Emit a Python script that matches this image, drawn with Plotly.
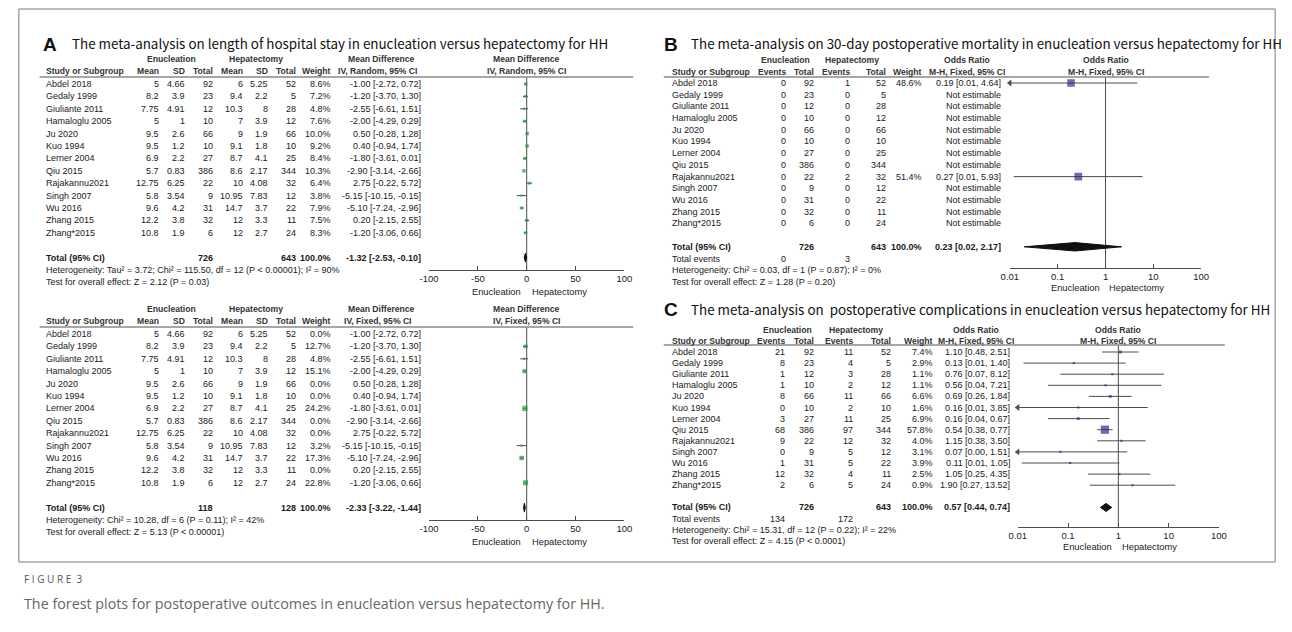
import math
import plotly.graph_objects as go

W, H = 1292, 632

# ---------------------------------------------------------------- data
studies = ["Abdel 2018", "Gedaly 1999", "Giuliante 2011", "Hamaloglu 2005", "Ju 2020", "Kuo 1994",
           "Lerner 2004", "Qiu 2015", "Rajakannu2021", "Singh 2007", "Wu 2016", "Zhang 2015", "Zhang*2015"]
enu_total = [92, 23, 12, 10, 66, 10, 27, 386, 22, 9, 31, 32, 6]
hep_total = [52, 5, 28, 12, 66, 10, 25, 344, 32, 12, 22, 11, 24]

# Panel A: length of hospital stay (mean difference)
los_enu_mean = [5, 8.2, 7.75, 5, 9.5, 9.5, 6.9, 5.7, 12.75, 5.8, 9.6, 12.2, 10.8]
los_enu_sd = [4.66, 3.9, 4.91, 1, 2.6, 1.2, 2.2, 0.83, 6.25, 3.54, 4.2, 3.8, 1.9]
los_hep_mean = [6, 9.4, 10.3, 7, 9, 9.1, 8.7, 8.6, 10, 10.95, 14.7, 12, 12]
los_hep_sd = [5.25, 2.2, 8, 3.9, 1.9, 1.8, 4.1, 2.17, 4.08, 7.83, 3.7, 3.3, 2.7]
los_md = [-1.00, -1.20, -2.55, -2.00, 0.50, 0.40, -1.80, -2.90, 2.75, -5.15, -5.10, 0.20, -1.20]
los_lo = [-2.72, -3.70, -6.61, -4.29, -0.28, -0.94, -3.61, -3.14, -0.22, -10.15, -7.24, -2.15, -3.06]
los_hi = [0.72, 1.30, 1.51, 0.29, 1.28, 1.74, 0.01, -2.66, 5.72, -0.15, -2.96, 2.55, 0.66]
los_weight_random = [8.6, 7.2, 4.8, 7.6, 10.0, 9.2, 8.4, 10.3, 6.4, 3.8, 7.9, 7.5, 8.3]
los_weight_fixed = [0.0, 12.7, 4.8, 15.1, 0.0, 0.0, 24.2, 0.0, 0.0, 3.2, 17.3, 0.0, 22.8]
total_weight = 100.0
los_random_total = [-1.32, -2.53, -0.10]
los_fixed_total = [-2.33, -3.22, -1.44]
los_random_het = "Heterogeneity: Tau² = 3.72; Chi² = 115.50, df = 12 (P < 0.00001); I² = 90%"
los_random_test = "Test for overall effect: Z = 2.12 (P = 0.03)"
los_fixed_het = "Heterogeneity: Chi² = 10.28, df = 6 (P = 0.11); I² = 42%"
los_fixed_test = "Test for overall effect: Z = 5.13 (P < 0.00001)"
md_ticks = [-100, -50, 0, 50, 100]

# Panel B: 30-day mortality (odds ratio)
mort_enu_events = [0, 0, 0, 0, 0, 0, 0, 0, 0, 0, 0, 0, 0]
mort_hep_events = [1, 0, 0, 0, 0, 0, 0, 0, 2, 0, 0, 0, 0]
mort_weight = [48.6, None, None, None, None, None, None, None, 51.4, None, None, None, None]
mort_or = [0.19, None, None, None, None, None, None, None, 0.27, None, None, None, None]
mort_lo = [0.008, None, None, None, None, None, None, None, 0.012, None, None, None, None]
mort_hi = [4.64, None, None, None, None, None, None, None, 5.93, None, None, None, None]
mort_total = [0.23, 0.02, 2.17]
mort_het = "Heterogeneity: Chi² = 0.03, df = 1 (P = 0.87); I² = 0%"
mort_test = "Test for overall effect: Z = 1.28 (P = 0.20)"

# Panel C: postoperative complications (odds ratio)
comp_enu_events = [21, 8, 1, 1, 8, 0, 3, 68, 9, 0, 1, 12, 2]
comp_hep_events = [11, 4, 3, 2, 11, 2, 11, 97, 12, 5, 5, 4, 5]
comp_weight = [7.4, 2.9, 1.1, 1.1, 6.6, 1.6, 6.9, 57.8, 4.0, 3.1, 3.9, 2.5, 0.9]
comp_or = [1.10, 0.13, 0.76, 0.56, 0.69, 0.16, 0.16, 0.54, 1.15, 0.07, 0.11, 1.05, 1.90]
comp_lo = [0.48, 0.013, 0.07, 0.04, 0.26, 0.007, 0.04, 0.38, 0.38, 0.003, 0.012, 0.25, 0.27]
comp_hi = [2.51, 1.40, 8.12, 7.21, 1.84, 3.85, 0.67, 0.77, 3.50, 1.51, 1.05, 4.35, 13.52]
comp_total = [0.57, 0.44, 0.74]
comp_het = "Heterogeneity: Chi² = 15.31, df = 12 (P = 0.22); I² = 22%"
comp_test = "Test for overall effect: Z = 4.15 (P < 0.0001)"
or_ticks = [0.01, 0.1, 1, 10, 100]
or_tick_labels = ["0.01", "0.1", "1", "10", "100"]

# ---------------------------------------------------------------- style
FT = "Liberation Sans, Arial, sans-serif"
FS = 9
FSB = 8.6
TXT = "#1a1a1a"
HDR = "#333333"
GREEN = "#1e9e48"
NAVY = "#2e2e8c"
LINE = "#4d4d4d"
TITLE_F = "Noto Sans CJK SC, Noto Sans, Arial, sans-serif"
TITLE_S = 13.4

fig = go.Figure()
annotations = []
shapes = []


def X(x):
    return x / W


def Y(y):
    return 1 - y / H


def add_text(x, y, s, anchor="left", bold=False, size=None, color=TXT, family=FT):
    if size is None:
        size = FSB if bold else FS
    annotations.append(dict(
        x=X(x), y=Y(y), xref="paper", yref="paper",
        text=f"<b>{s}</b>" if bold else s, showarrow=False,
        xanchor=anchor, yanchor="middle", borderpad=0,
        font=dict(family=family, size=size, color=color)))


def add_hline(x0, x1, y, color="#8a8a8a", width=1.5):
    shapes.append(dict(type="line", xref="paper", yref="paper",
                       x0=X(x0), x1=X(x1), y0=Y(y), y1=Y(y),
                       line=dict(color=color, width=width)))


def fmt(v):
    return f"{v:g}"


def setup_forest(k, px0, px1, log, row0, dy, y_top, y_bot, ticks, ticklabels, ref):
    rng = [math.log10(ticks[0]), math.log10(ticks[-1])] if log else [ticks[0], ticks[-1]]
    r_top = (y_top - row0) / dy
    r_bot = (y_bot - row0) / dy
    fig.update_layout(**{
        f"xaxis{k}": dict(domain=[X(px0), X(px1)], range=rng, type="log" if log else "linear",
                          anchor=f"y{k}", showgrid=False, zeroline=False, showline=True,
                          linecolor=LINE, linewidth=1, ticks="inside", ticklen=4, tickcolor=LINE,
                          tickvals=ticks, ticktext=ticklabels, fixedrange=True,
                          tickfont=dict(family=FT, size=9.5, color=TXT)),
        f"yaxis{k}": dict(domain=[Y(y_bot), Y(y_top)], range=[r_bot, r_top], visible=False,
                          anchor=f"x{k}", fixedrange=True),
    })
    fig.add_trace(go.Scatter(x=[ref, ref], y=[r_top, r_bot], mode="lines",
                             line=dict(color=LINE, width=1), xaxis=f"x{k}", yaxis=f"y{k}",
                             hoverinfo="skip", showlegend=False))


def add_forest_marks(k, est, lo, hi, weights, color, axis_min, axis_max, total):
    xs, ys, mx, my, ms, ax, ay = [], [], [], [], [], [], []
    for i, (e, l, h, w) in enumerate(zip(est, lo, hi, weights)):
        if e is None or not w:
            continue
        xs += [max(l, axis_min), min(h, axis_max), None]
        ys += [i, i, None]
        mx.append(e)
        my.append(i)
        ms.append(max(2.2, 1.08 * math.sqrt(w)))
        if l < axis_min:
            ax.append(axis_min)
            ay.append(i)
    fig.add_trace(go.Scatter(x=xs, y=ys, mode="lines", line=dict(color=LINE, width=1),
                             xaxis=f"x{k}", yaxis=f"y{k}", hoverinfo="skip", showlegend=False))
    if ax:
        fig.add_trace(go.Scatter(x=ax, y=ay, mode="markers", cliponaxis=False,
                                 marker=dict(symbol="triangle-left", size=6, color=LINE),
                                 xaxis=f"x{k}", yaxis=f"y{k}", hoverinfo="skip", showlegend=False))
    fig.add_trace(go.Scatter(x=mx, y=my, mode="markers", cliponaxis=False,
                             marker=dict(symbol="square", size=ms, color=color, line=dict(width=0)),
                             xaxis=f"x{k}", yaxis=f"y{k}", hoverinfo="skip", showlegend=False))
    e, l, h = total
    r = 14
    fig.add_trace(go.Scatter(x=[l, e, h, e, l], y=[r, r - 0.36, r, r + 0.36, r], mode="lines",
                             fill="toself", fillcolor="#111111", line=dict(color="#111111", width=1),
                             xaxis=f"x{k}", yaxis=f"y{k}", hoverinfo="skip", showlegend=False))


# ---------------------------------------------------------------- frame & caption
shapes.append(dict(type="rect", xref="paper", yref="paper", x0=X(9), x1=X(1283), y0=Y(562), y1=Y(9),
                   line=dict(color="#7a7a7a", width=1)))
add_text(13, 579, "F I G U R E  3", size=10, color="#555555", family="Open Sans, Arial")
add_text(13, 603, "The forest plots for postoperative outcomes in enucleation versus hepatectomy for HH.",
         size=14.3, color="#666666", family="Open Sans, Arial")

# ---------------------------------------------------------------- panel titles
add_text(32, 44, "A", bold=True, size=19, color="#111111", family="Liberation Sans, Arial")
add_text(62, 43, "The meta-analysis on length of hospital stay in enucleation versus hepatectomy for HH",
         size=TITLE_S, color="#111111", family=TITLE_F)
add_text(662, 44, "B", bold=True, size=19, color="#111111", family="Liberation Sans, Arial")
add_text(690, 43, "The meta-analysis on 30-day postoperative mortality in enucleation versus hepatectomy for HH",
         size=TITLE_S, color="#111111", family=TITLE_F)
add_text(662, 310, "C", bold=True, size=19, color="#111111", family="Liberation Sans, Arial")
add_text(690, 309, "The meta-analysis on  postoperative complications in enucleation versus hepatectomy for HH",
         size=TITLE_S, color="#111111", family=TITLE_F)


# ---------------------------------------------------------------- panel A (two tables)
def md_panel(k, yoff, weights, total, het, test, model):
    row0, dy = 84 + yoff, 12.4
    ry = lambda r: row0 + r * dy
    cols = [152, 178, 207, 237, 263, 291, 327]
    ci_r, zero = 418, 524
    h1, h2, ln, axis_y = 59 + yoff, 71 + yoff, 77 + yoff, 270 + yoff
    add_text(164, h1, "Enucleation", "center", True, color=HDR)
    add_text(249, h1, "Hepatectomy", "center", True, color=HDR)
    add_text(377, h1, "Mean Difference", "center", True, color=HDR)
    add_text(zero, h1, "Mean Difference", "center", True, color=HDR)
    add_text(36, h2, "Study or Subgroup", "left", True, color=HDR)
    for c, s in zip(cols, ["Mean", "SD", "Total", "Mean", "SD", "Total", "Weight"]):
        add_text(c, h2, s, "right", True, color=HDR)
    add_text(373, h2, f"IV, {model}, 95% CI", "center", True, color=HDR)
    add_text(zero, h2, f"IV, {model}, 95% CI", "center", True, color=HDR)
    add_hline(30, 632, ln)
    for i, name in enumerate(studies):
        y = ry(i)
        add_text(36, y, name)
        vals = [fmt(los_enu_mean[i]), fmt(los_enu_sd[i]), str(enu_total[i]),
                fmt(los_hep_mean[i]), fmt(los_hep_sd[i]), str(hep_total[i]), f"{weights[i]:.1f}%"]
        for c, s in zip(cols, vals):
            add_text(c, y, s, "right")
        add_text(ci_r, y, f"{los_md[i]:.2f} [{los_lo[i]:.2f}, {los_hi[i]:.2f}]", "right")
    n1 = sum(n for n, w in zip(enu_total, weights) if w > 0)
    n2 = sum(n for n, w in zip(hep_total, weights) if w > 0)
    add_text(36, ry(14), "Total (95% CI)", "left", True, size=FS)
    add_text(cols[2], ry(14), str(n1), "right", True, size=FS)
    add_text(cols[5], ry(14), str(n2), "right", True, size=FS)
    add_text(cols[6], ry(14), f"{total_weight:.1f}%", "right", True, size=FS)
    add_text(ci_r, ry(14), f"{total[0]:.2f} [{total[1]:.2f}, {total[2]:.2f}]", "right", True, size=FS)
    add_text(36, ry(15), het)
    add_text(36, ry(16), test)
    setup_forest(k, 425, 623, False, row0, dy, ln, axis_y, md_ticks, [str(t) for t in md_ticks], 0)
    add_forest_marks(k, los_md, los_lo, los_hi, weights, GREEN, md_ticks[0], md_ticks[-1], total)
    add_text(zero - 5, axis_y + 22, "Enucleation", "right", size=9.3)
    add_text(zero + 4, axis_y + 22, "Hepatectomy", "left", size=9.3)


md_panel(1, 0, los_weight_random, los_random_total, los_random_het, los_random_test, "Random")
md_panel(2, 250, los_weight_fixed, los_fixed_total, los_fixed_het, los_fixed_test, "Fixed")


# ---------------------------------------------------------------- panels B and C
def or_panel(k, cfg, ev1, ev2, weights, ors, los, his, total, het, test):
    row0, dy = cfg["row0"], cfg["dy"]
    ry = lambda r: row0 + r * dy
    c = cfg["cols"]
    h1, h2, ln, axis_y = cfg["h1"], cfg["h2"], cfg["line"], cfg["axis"]
    p0, p1 = cfg["plot"]
    one = (p0 + p1) / 2
    add_text(cfg["enu_c"], h1, "Enucleation", "center", True, color=HDR)
    add_text(cfg["hep_c"], h1, "Hepatectomy", "center", True, color=HDR)
    add_text(cfg["or_c"], h1, "Odds Ratio", "center", True, color=HDR)
    add_text(one, h1, "Odds Ratio", "center", True, color=HDR)
    add_text(670, h2, "Study or Subgroup", "left", True, color=HDR)
    for cc, s in zip(c[:5], ["Events", "Total", "Events", "Total", "Weight"]):
        add_text(cc, h2, s, "right", True, color=HDR)
    add_text(cfg["or_c"], h2, "M-H, Fixed, 95% CI", "center", True, color=HDR)
    add_text(one, h2, "M-H, Fixed, 95% CI", "center", True, color=HDR)
    add_hline(663, cfg["line_end"], ln)
    for i, name in enumerate(studies):
        y = ry(i)
        add_text(670, y, name)
        vals = [str(ev1[i]), str(enu_total[i]), str(ev2[i]), str(hep_total[i]),
                f"{weights[i]:.1f}%" if weights[i] is not None else ""]
        for cc, s in zip(c[:5], vals):
            if s:
                add_text(cc, y, s, "right")
        if ors[i] is None:
            add_text(c[5], y, "Not estimable", "right")
        else:
            add_text(c[5], y, f"{ors[i]:.2f} [{los[i]:.2f}, {his[i]:.2f}]", "right")
    add_text(670, ry(14), "Total (95% CI)", "left", True, size=FS)
    add_text(c[1], ry(14), str(sum(enu_total)), "right", True, size=FS)
    add_text(c[3], ry(14), str(sum(hep_total)), "right", True, size=FS)
    add_text(c[4], ry(14), f"{total_weight:.1f}%", "right", True, size=FS)
    add_text(c[5], ry(14), f"{total[0]:.2f} [{total[1]:.2f}, {total[2]:.2f}]", "right", True, size=FS)
    add_text(670, ry(15), "Total events")
    add_text(c[0], ry(15), str(sum(ev1)), "right")
    add_text(c[2], ry(15), str(sum(ev2)), "right")
    add_text(670, ry(16), het)
    add_text(670, ry(17), test)
    setup_forest(k, p0, p1, True, row0, dy, ln, axis_y, or_ticks, or_tick_labels, 1)
    add_forest_marks(k, ors, los, his, weights, NAVY, or_ticks[0], or_ticks[-1], total)
    add_text(one - 5, axis_y + 20, "Enucleation", "right", size=9.3)
    add_text(one + 3, axis_y + 20, "Hepatectomy", "left", size=9.3)


B_cfg = dict(row0=83, dy=11.7, cols=[788, 816, 853, 889, 926, 1006], h1=60, h2=72, line=77, axis=268,
             plot=(1014, 1208), enu_c=786, hep_c=854, or_c=971, line_end=1216)
C_cfg = dict(row0=352, dy=11.1, cols=[787, 816, 856, 894, 937, 1015], h1=330, h2=341, line=345, axis=527,
             plot=(1022, 1226), enu_c=788, hep_c=858, or_c=980, line_end=1232)

or_panel(3, B_cfg, mort_enu_events, mort_hep_events, mort_weight, mort_or, mort_lo, mort_hi,
         mort_total, mort_het, mort_test)
or_panel(4, C_cfg, comp_enu_events, comp_hep_events, comp_weight, comp_or, comp_lo, comp_hi,
         comp_total, comp_het, comp_test)

fig.update_layout(width=W, height=H, autosize=False, margin=dict(l=0, r=0, t=0, b=0),
                  paper_bgcolor="white", plot_bgcolor="white", showlegend=False,
                  annotations=annotations, shapes=shapes)
fig.write_html("out.html", config={"displayModeBar": False},
               post_script="document.body.style.margin='0';document.body.style.overflow='hidden';")
